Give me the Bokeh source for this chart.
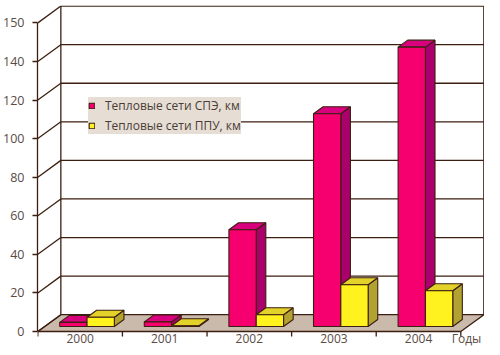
from bokeh.plotting import figure
from bokeh.models import Range1d, FixedTicker, Legend, LegendItem
from bokeh.core.properties import value
from bokeh.embed import file_html
from bokeh.resources import INLINE

# ---- data ----
YEARS = ["2000", "2001", "2002", "2003", "2004"]
SPE_KM = [2.1, 2.4, 50.1, 110.3, 144.8]
PPU_KM = [4.8, 0.4, 6.1, 21.6, 18.5]
SERIES_NAMES = ["Тепловые сети СПЭ, км", "Тепловые сети ППУ, км"]
Y_TICKS = [0, 20, 40, 60, 80, 100, 120, 140, 160]
Y_TICK_LABELS = ["0", "20", "40", "60", "80", "100", "120", "140", "150"]
X_AXIS_TITLE = "Годы"

# ---- 3D geometry (data units) ----
N = len(YEARS)
DX = 0.272          # depth offset along x
DY = 8.7            # depth offset along y
F0, F1 = 0.30, 0.717  # bar front/back depth fractions
BAR_W = 0.323
Y_TOP = Y_TICKS[-1]
LABEL_Y = -3.7      # year labels below floor
TICK_LEN = 2.6      # category tick length below floor
TITLE_X = N + DX - 0.03

INK = "#3c1f10"
TXT = "#5a4b46"
FONT = "Open Sans"

p = figure(width=484, height=347, output_backend="svg", toolbar_location=None,
           x_range=Range1d(-0.004, N + DX + 0.008),
           y_range=Range1d(-8.3, 169.0),
           x_axis_location=None,
           min_border_left=37, min_border_right=0, min_border_top=5, min_border_bottom=0)
p.outline_line_color = None
p.grid.visible = False
p.background_fill_color = "white"
p.border_fill_color = "white"

# floor
p.patch([0, N, N + DX, DX], [0, 0, DY, DY], fill_color="#c9baac",
        line_color=INK, line_width=1.3)
# back wall grid + edges
p.multi_line([[DX, N + DX] for v in Y_TICKS[1:]], [[v + DY, v + DY] for v in Y_TICKS[1:]],
             line_color=INK, line_width=1.3)
p.multi_line([[DX, DX], [N + DX, N + DX]], [[DY, Y_TOP + DY], [DY, Y_TOP + DY]],
             line_color=INK, line_width=1.3)
# side-wall diagonals
p.multi_line([[0, DX] for v in Y_TICKS], [[v, v + DY] for v in Y_TICKS],
             line_color=INK, line_width=1.3)
# category ticks below the floor front edge
p.segment(x0=list(range(N + 1)), y0=[0] * (N + 1), x1=list(range(N + 1)),
          y1=[-TICK_LEN] * (N + 1), line_color=INK, line_width=1.3)


def bar_series(values, side_offset, front_col, top_col, side_col):
    fx0, fy0 = F0 * DX, F0 * DY
    bx0, by0 = F1 * DX, F1 * DY
    lefts, rights, tops = [], [], []
    top_xs, top_ys, side_xs, side_ys = [], [], [], []
    for i, v in enumerate(values):
        c = i + 0.5
        x0 = c + side_offset
        x1 = x0 + BAR_W
        lefts.append(x0 + fx0)
        rights.append(x1 + fx0)
        tops.append(v + fy0)
        top_xs.append([x0 + fx0, x1 + fx0, x1 + bx0, x0 + bx0])
        top_ys.append([v + fy0, v + fy0, v + by0, v + by0])
        side_xs.append([x1 + fx0, x1 + bx0, x1 + bx0, x1 + fx0])
        side_ys.append([fy0, by0, v + by0, v + fy0])
    p.patches(side_xs, side_ys, fill_color=side_col, line_color=INK, line_width=1.1)
    p.patches(top_xs, top_ys, fill_color=top_col, line_color=INK, line_width=1.1)
    return p.quad(left=lefts, right=rights, bottom=[fy0] * len(values), top=tops,
                  fill_color=front_col, line_color=INK, line_width=1.1)


r_spe = bar_series(SPE_KM, -BAR_W, "#f5006e", "#d8007c", "#a9006b")
r_ppu = bar_series(PPU_KM, 0.0, "#fff21f", "#e2d22a", "#b1a232")

# year labels and axis title
p.text(x=[i + 0.5 for i in range(N)], y=[LABEL_Y] * N,
       text=YEARS, text_font=value(FONT), text_font_size="12px",
       text_align="center", text_baseline="middle", text_color=TXT)
p.text(x=[TITLE_X], y=[LABEL_Y], text=[X_AXIS_TITLE], text_font=value(FONT),
       text_font_size="12px", text_align="right", text_baseline="middle", text_color=TXT)

# y axis on the front plane
ya = p.yaxis[0]
ya.ticker = FixedTicker(ticks=Y_TICKS, minor_ticks=[])
ya.major_label_overrides = {t: s for t, s in zip(Y_TICKS, Y_TICK_LABELS)}
ya.bounds = (0, Y_TOP)
ya.axis_line_color = INK
ya.axis_line_width = 1.3
ya.major_tick_line_color = INK
ya.major_tick_line_width = 1.3
ya.major_tick_out = 5
ya.major_tick_in = 0
ya.major_label_standoff = 8
ya.major_label_text_font = FONT
ya.major_label_text_font_size = "12.5px"
ya.major_label_text_color = TXT

legend = Legend(items=[LegendItem(label=SERIES_NAMES[0], renderers=[r_spe]),
                       LegendItem(label=SERIES_NAMES[1], renderers=[r_ppu])],
                location=(51, 213), padding=5, spacing=3,
                glyph_width=7, glyph_height=7, label_height=12, label_standoff=10,
                label_width=136,
                label_text_font=FONT, label_text_font_size="12px", label_text_color="#4a3c36",
                background_fill_color="#e6ddd4", background_fill_alpha=1.0,
                border_line_color=None, margin=0)
p.add_layout(legend)

open("out.html", "w").write(file_html(p, INLINE))
